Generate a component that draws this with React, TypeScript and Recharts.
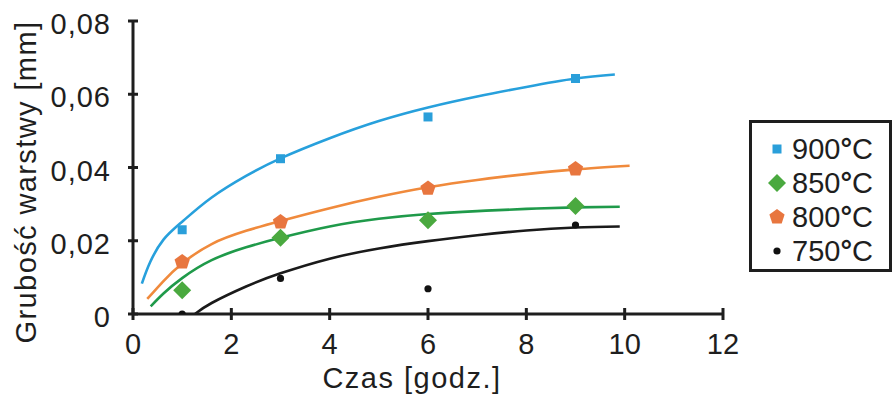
import {
  ComposedChart,
  Line,
  Scatter,
  XAxis,
  YAxis,
  Legend,
  Label,
} from "recharts";

// czas wygrzewania [h] dla punktów pomiarowych
const czasPomiaru = [1, 3, 6, 9];
const pomiar900 = [0.023, 0.0424, 0.0538, 0.0643];
const pomiar850 = [0.0065, 0.0208, 0.0256, 0.0295];
const pomiar800 = [0.0142, 0.0251, 0.0343, 0.0396];
const pomiar750 = [0, 0.0097, 0.0069, 0.0243];

// krzywe aproksymujące
const krzywaCzas900 = [0.18, 0.35, 0.62, 1, 1.6, 2.3, 3, 4, 5, 6, 7, 8, 9, 9.8];
const krzywa900 = [0.0083, 0.0142, 0.0203, 0.0252, 0.0318, 0.0377, 0.0425, 0.048, 0.0527, 0.0564, 0.0594, 0.062, 0.0643, 0.0654];

const krzywaCzas800 = [0.29, 0.62, 1, 1.6, 2.3, 3, 4, 5, 6, 7, 8, 9, 10.1];
const krzywa800 = [0.0041, 0.009, 0.0138, 0.0191, 0.0227, 0.0254, 0.0289, 0.032, 0.0346, 0.0366, 0.0382, 0.0395, 0.0405];

const krzywaCzas850 = [0.36, 0.62, 1, 1.6, 2.3, 3, 4, 5, 6, 7, 8, 9, 9.9];
const krzywa850 = [0.0021, 0.0056, 0.0098, 0.0147, 0.0182, 0.0208, 0.0239, 0.026, 0.0273, 0.0281, 0.0287, 0.0291, 0.0293];

const krzywaCzas750 = [1.26, 1.6, 2.3, 3, 4, 5, 6, 7, 8, 9, 9.9];
const krzywa750 = [0, 0.003, 0.0075, 0.0111, 0.0151, 0.0179, 0.0199, 0.0215, 0.0228, 0.0236, 0.0239];

const xTicks = [0, 2, 4, 6, 8, 10, 12];
const yTicks = [0, 0.02, 0.04, 0.06, 0.08];

const FONT = '"Liberation Sans", Arial, sans-serif';
const INK = "#1e1e1e";

const zip = (xs: number[], ys: number[]) => xs.map((x, i) => ({ x, y: ys[i] }));

const series = [
  { name: "900", line: "#27a0dc", mark: "#2a9fda", pts: zip(czasPomiaru, pomiar900), curve: zip(krzywaCzas900, krzywa900), shape: "square" },
  { name: "850", line: "#1f9a4a", mark: "#4aa93f", pts: zip(czasPomiaru, pomiar850), curve: zip(krzywaCzas850, krzywa850), shape: "diamond" },
  { name: "800", line: "#f08a3c", mark: "#e8763f", pts: zip(czasPomiaru, pomiar800), curve: zip(krzywaCzas800, krzywa800), shape: "pentagon" },
  { name: "750", line: "#1a1a1a", mark: "#111111", pts: zip(czasPomiaru, pomiar750), curve: zip(krzywaCzas750, krzywa750), shape: "dot" },
];

function Marker({ kind, cx, cy, fill }: { kind: string; cx: number; cy: number; fill: string }) {
  if (kind === "square") {
    return <rect x={cx - 4.5} y={cy - 4.5} width={9} height={9} fill={fill} />;
  }
  if (kind === "diamond") {
    const r = 9;
    return <polygon points={`${cx},${cy - r} ${cx + r},${cy} ${cx},${cy + r} ${cx - r},${cy}`} fill={fill} />;
  }
  if (kind === "pentagon") {
    const r = 8;
    const pts = [0, 1, 2, 3, 4]
      .map((i) => {
        const a = -Math.PI / 2 + (i * 2 * Math.PI) / 5;
        return `${cx + r * Math.cos(a)},${cy + r * Math.sin(a)}`;
      })
      .join(" ");
    return <polygon points={pts} fill={fill} />;
  }
  return <circle cx={cx} cy={cy} r={3.6} fill={fill} />;
}

const XTick = ({ x, y, payload }: any) => (
  <g>
    <line x1={x} x2={x} y1={y - 6} y2={y + 6} stroke={INK} strokeWidth={3} />
    <text x={x} y={y + 40} textAnchor="middle" fontFamily={FONT} fontSize={29} fill={INK}>
      {payload.value}
    </text>
  </g>
);

const YTick = ({ x, y, payload }: any) => (
  <g>
    <line x1={x - 5} x2={x + 5} y1={y} y2={y} stroke={INK} strokeWidth={3} />
    <text x={x - 22} y={y + 13} textAnchor="end" fontFamily={FONT} fontSize={29} fill={INK} letterSpacing={1}>
      {payload.value === 0 ? "0" : payload.value.toFixed(2).replace(".", ",")}
    </text>
  </g>
);

const LegendBox = () => (
  <div
    style={{
      boxSizing: "border-box",
      width: 143,
      height: 152,
      border: `3px solid ${INK}`,
      background: "#fff",
      paddingTop: 9,
      fontFamily: FONT,
      fontSize: 29,
      color: INK,
    }}
  >
    {series.map((s) => (
      <div key={s.name} style={{ display: "flex", alignItems: "center", height: 34, lineHeight: "34px", paddingLeft: 15 }}>
        <svg width={20} height={20}>
          <Marker kind={s.shape} cx={10} cy={10} fill={s.mark} />
        </svg>
        <span style={{ marginLeft: 5 }}>
          {s.name}
          <span style={{ fontWeight: 700 }}>°</span>C
        </span>
      </div>
    ))}
  </div>
);

export default function App() {
  return (
    <div style={{ position: "absolute", left: 0, top: 0, background: "#fff" }}>
      <ComposedChart width={893} height={396} margin={{ top: 21, right: 170, bottom: 0, left: 0 }}>
        <XAxis
          type="number"
          dataKey="x"
          domain={[0, 12]}
          ticks={xTicks}
          height={82}
          tickSize={0}
          tickMargin={0}
          tickLine={false}
          axisLine={{ stroke: INK, strokeWidth: 3 }}
          tick={<XTick />}
          allowDataOverflow
        >
          <Label
            content={() => (
              <text x={412} y={388} textAnchor="middle" fontFamily={FONT} fontSize={29} fill={INK} letterSpacing={1.5}>
                Czas [godz.]
              </text>
            )}
          />
        </XAxis>
        <YAxis
          type="number"
          domain={[0, 0.08]}
          ticks={yTicks}
          width={133}
          tickSize={0}
          tickMargin={0}
          tickLine={false}
          axisLine={{ stroke: INK, strokeWidth: 3 }}
          tick={<YTick />}
          allowDataOverflow
        >
          <Label
            content={() => (
              <text
                x={36}
                y={182}
                transform="rotate(-90, 36, 182)"
                textAnchor="middle"
                fontFamily={FONT}
                fontSize={29}
                fill={INK}
                letterSpacing={1.4}
              >
                Grubość warstwy [mm]
              </text>
            )}
          />
        </YAxis>
        <Legend
          layout="vertical"
          align="center"
          verticalAlign="middle"
          content={<LegendBox />}
          wrapperStyle={{ left: 749, top: 120, width: 143, height: 152 }}
        />
        {series.map((s) => (
          <Line
            key={`l${s.name}`}
            data={s.curve}
            dataKey="y"
            type="natural"
            stroke={s.line}
            strokeWidth={2.6}
            dot={false}
            activeDot={false}
            legendType="none"
            isAnimationActive={false}
          />
        ))}
        {series.map((s) => (
          <Scatter
            key={`s${s.name}`}
            data={s.pts}
            dataKey="y"
            fill={s.mark}
            legendType="none"
            isAnimationActive={false}
            shape={(p: any) => <Marker kind={s.shape} cx={p.cx} cy={p.cy} fill={s.mark} />}
          />
        ))}
      </ComposedChart>
    </div>
  );
}
